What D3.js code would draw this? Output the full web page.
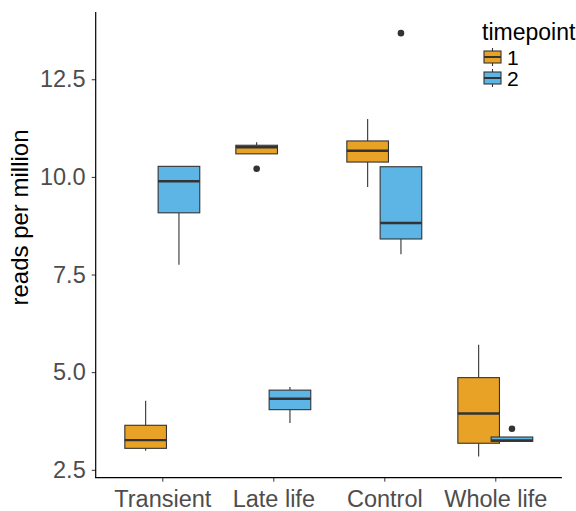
<!DOCTYPE html>
<html>
<head>
<meta charset="utf-8">
<script src="https://cdn.jsdelivr.net/npm/d3@7"></script>
<style>
  body { margin: 0; background: #fff; }
  svg { display: block; font-family: "Liberation Sans", Arial, Helvetica, sans-serif; }
</style>
</head>
<body>
<svg id="chart" width="576" height="511"></svg>
<script>
const categories = ["Transient", "Late life", "Control", "Whole life"];
const timepoints = ["1", "2"];
const yTicks = [2.5, 5.0, 7.5, 10.0, 12.5];
// box stats per timepoint: [lower whisker, q1, median, q3, upper whisker]
const statsT1 = [
  [2.99, 3.05, 3.26, 3.64, 4.27],
  [10.59, 10.59, 10.76, 10.81, 10.89],
  [9.74, 10.38, 10.67, 10.92, 11.48],
  [2.84, 3.18, 3.94, 4.86, 5.70]
];
const statsT2 = [
  [7.75, 9.08, 9.89, 10.27, 10.27],
  [3.70, 4.04, 4.32, 4.54, 4.62],
  [8.02, 8.41, 8.82, 10.26, 10.26],
  [3.23, 3.23, 3.25, 3.34, 3.34]
];
const outliersT1 = [[], [10.21], [], []];
const outliersT2 = [[], [], [13.68], [3.55]];
const colors = ["#E8A226", "#5CB5E5"];

const svg = d3.select("#chart");
const panel = { left: 95.7, right: 561.9, top: 12, bottom: 477.7 };

const boxes = [];
[statsT1, statsT2].forEach((stats, ti) => {
  stats.forEach((s, ci) => {
    boxes.push({ cat: categories[ci], tp: timepoints[ti], ti, s,
      out: (ti === 0 ? outliersT1 : outliersT2)[ci] });
  });
});

const allVals = boxes.flatMap(b => b.s.concat(b.out));
const lo = d3.min(allVals), hi = d3.max(allVals), r = hi - lo;
const y = d3.scaleLinear().domain([lo - 0.05 * r, hi + 0.05 * r]).range([panel.bottom, panel.top]);
const x = d3.scalePoint().domain(categories).range([panel.left, panel.right]).padding(0.6);
const step = x.step();
const bw = 0.375 * step;
const dodge = d3.scaleOrdinal().domain(timepoints).range([-0.15 * step, 0.15 * step]);
const color = d3.scaleOrdinal().domain(timepoints).range(colors);

const tickFont = 23.5;

// Boxes
const g = svg.append("g");
boxes.forEach(b => {
  const cx = x(b.cat) + dodge(b.tp);
  const [wl, q1, md, q3, wu] = b.s;
  const bg = g.append("g");
  bg.append("line").attr("x1", cx).attr("x2", cx).attr("y1", y(q3)).attr("y2", y(wu))
    .attr("stroke", "#333").attr("stroke-width", 1.1);
  bg.append("line").attr("x1", cx).attr("x2", cx).attr("y1", y(q1)).attr("y2", y(wl))
    .attr("stroke", "#333").attr("stroke-width", 1.1);
  bg.append("rect").attr("x", cx - bw / 2).attr("width", bw)
    .attr("y", y(q3)).attr("height", Math.max(0, y(q1) - y(q3)))
    .attr("fill", color(b.tp)).attr("stroke", "#333").attr("stroke-width", 1.1);
  bg.append("line").attr("x1", cx - bw / 2).attr("x2", cx + bw / 2).attr("y1", y(md)).attr("y2", y(md))
    .attr("stroke", "#333").attr("stroke-width", 2.4);
  b.out.forEach(o => {
    bg.append("circle").attr("cx", cx).attr("cy", y(o)).attr("r", 3.3).attr("fill", "#333");
  });
});

// Axes
const yAxis = d3.axisLeft(y).tickValues(yTicks).tickFormat(d3.format(".1f")).tickSize(4).tickPadding(6);
const ya = svg.append("g").attr("transform", `translate(${panel.left},0)`).call(yAxis);
ya.select(".domain").remove();
ya.append("line").attr("x1", 0).attr("x2", 0).attr("y1", panel.top).attr("y2", panel.bottom)
  .attr("stroke", "#000").attr("stroke-width", 1.2);
ya.selectAll(".tick line").attr("stroke", "#333");
ya.selectAll(".tick text").attr("fill", "#4D4D4D").style("font-size", tickFont + "px")
  .style("font-family", "Liberation Sans, Arial, sans-serif");

const xAxis = d3.axisBottom(x).tickSize(4).tickPadding(8.5);
const xa = svg.append("g").attr("transform", `translate(0,${panel.bottom})`).call(xAxis);
xa.select(".domain").remove();
xa.append("line").attr("x1", panel.left - 0.6).attr("x2", panel.right).attr("y1", 0).attr("y2", 0)
  .attr("stroke", "#000").attr("stroke-width", 1.2);
xa.selectAll(".tick line").attr("stroke", "#333");
xa.selectAll(".tick text").attr("fill", "#4D4D4D").style("font-size", tickFont + "px")
  .style("font-family", "Liberation Sans, Arial, sans-serif");

// Y label
svg.append("text")
  .attr("transform", `translate(27.5,217.5) rotate(-90)`)
  .attr("text-anchor", "middle")
  .style("font-size", "24px")
  .attr("fill", "#000")
  .text("reads per million");

// Legend
const lg = svg.append("g").attr("transform", "translate(482,0)");
lg.append("text").attr("x", 0).attr("y", 39.5).style("font-size", "23px").attr("fill", "#000").text("timepoint");
timepoints.forEach((tp, i) => {
  const cy = 57 + i * 21;
  const kx = 2, kw = 17;
  lg.append("line").attr("x1", kx + kw / 2).attr("x2", kx + kw / 2).attr("y1", cy - 9).attr("y2", cy + 9)
    .attr("stroke", "#333").attr("stroke-width", 1.1);
  lg.append("rect").attr("x", kx).attr("y", cy - 6).attr("width", kw).attr("height", 12)
    .attr("fill", color(tp)).attr("stroke", "#333").attr("stroke-width", 1.1);
  lg.append("line").attr("x1", kx).attr("x2", kx + kw).attr("y1", cy).attr("y2", cy)
    .attr("stroke", "#333").attr("stroke-width", 2);
  lg.append("text").attr("x", kx + kw + 6).attr("y", cy + 7.5).style("font-size", "21px")
    .attr("fill", "#000").text(tp);
});
</script>
</body>
</html>
